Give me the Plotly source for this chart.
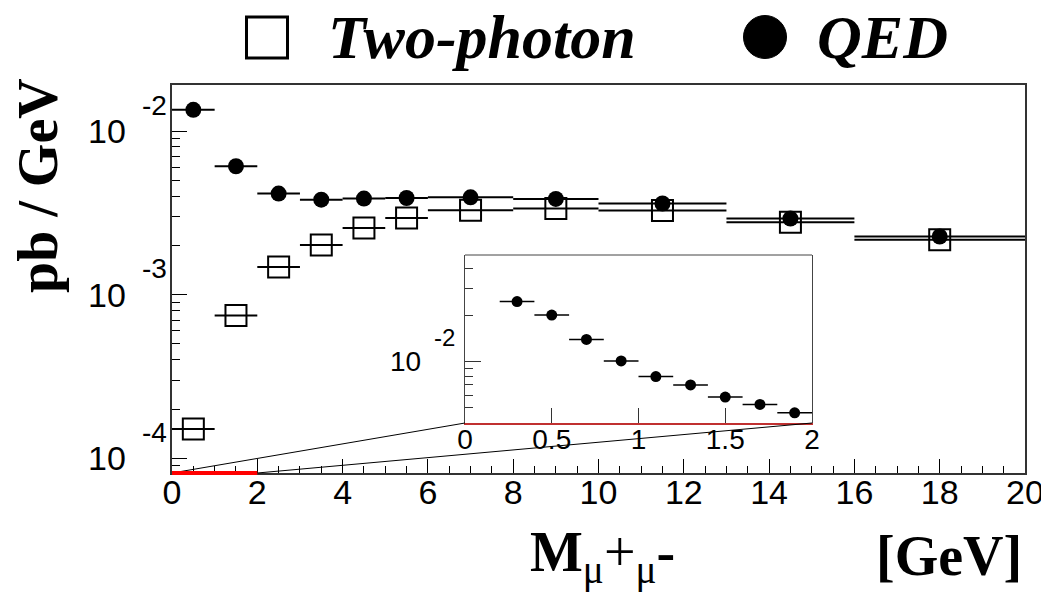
import numpy as np
import plotly.graph_objects as go

# ---------------- data ----------------
bin_lo = [0, 1, 2, 3, 4, 5, 6, 8, 10, 13, 16]
bin_hi = [1, 2, 3, 4, 5, 6, 8, 10, 13, 16, 20]
qed = [0.0135, 0.0061, 0.00415, 0.00381, 0.00387, 0.0039, 0.00394, 0.00385, 0.00361, 0.00292, 0.00227]
two_photon = [1.51e-4, 7.46e-4, 1.476e-3, 2.01e-3, 2.56e-3, 2.94e-3, 3.28e-3, 3.36e-3, 3.27e-3, 2.77e-3, 2.17e-3]

inset_lo = [0.2, 0.4, 0.6, 0.8, 1.0, 1.2, 1.4, 1.6, 1.8]
inset_hi = [0.4, 0.6, 0.8, 1.0, 1.2, 1.4, 1.6, 1.8, 2.0]
inset_qed = [0.0245, 0.0200, 0.01387, 0.01005, 0.00794, 0.0070, 0.00584, 0.00523, 0.00461]

x_ticks = [0, 2, 4, 6, 8, 10, 12, 14, 16, 18, 20]
y_major = [1e-4, 1e-3, 1e-2]
inset_x_ticks = [0, 0.5, 1, 1.5, 2]
inset_x_text = ["0", "0.5", "1", "1.5", "2"]
inset_y_major = [1e-2]

legend_names = ["Two-photon", "QED"]

# ---------------- helpers ----------------
lo, hi = np.array(bin_lo, float), np.array(bin_hi, float)
xc, xe = (lo + hi) / 2, (hi - lo) / 2
ilo, ihi = np.array(inset_lo), np.array(inset_hi)
ixc, ixe = (ilo + ihi) / 2, (ihi - ilo) / 2


def minor_log(lo_dec, hi_dec):
    vals = []
    for d in range(lo_dec, hi_dec + 1):
        for m in range(2, 10):
            vals.append(m * 10.0 ** d)
    return vals


SERIF = "Liberation Serif"
SANS = "Liberation Sans"
W, H = 1041, 595
ML, MR, MT, MB = 172, 16, 85, 122
PW, PH = W - ML - MR, H - MT - MB

fig = go.Figure()

# main plot traces
fig.add_trace(go.Scatter(
    x=xc, y=qed, mode="markers", name=legend_names[1],
    marker=dict(symbol="circle", size=16, color="black"),
    error_x=dict(type="data", array=xe, symmetric=True, width=0, thickness=2, color="black"),
    xaxis="x", yaxis="y", showlegend=False))
fig.add_trace(go.Scatter(
    x=xc, y=two_photon, mode="markers", name=legend_names[0],
    marker=dict(symbol="square-open", size=21, color="black", line=dict(width=2, color="black")),
    error_x=dict(type="data", array=xe, symmetric=True, width=0, thickness=2, color="black"),
    xaxis="x", yaxis="y", showlegend=False))

# inset trace
fig.add_trace(go.Scatter(
    x=ixc, y=inset_qed, mode="markers",
    marker=dict(symbol="circle", size=11, color="black"),
    error_x=dict(type="data", array=ixe, symmetric=True, width=0, thickness=1.5, color="black"),
    xaxis="x2", yaxis="y2", showlegend=False))

inset_dx = [(465 - ML) / PW, (812 - ML) / PW]
inset_dy = [(H - MB - 423) / PH, (H - MB - 255) / PH]

frame = "#333333"
fig.update_layout(
    width=W, height=H, autosize=False,
    margin=dict(l=ML, r=MR, t=MT, b=MB, autoexpand=False),
    paper_bgcolor="white", plot_bgcolor="white",
    showlegend=False,
    xaxis=dict(range=[0, 20], domain=[0, 1], anchor="y", automargin=False,
               tickvals=x_ticks, ticks="inside", ticklen=14, tickwidth=1.2, tickcolor="black",
               minor=dict(dtick=0.5, tick0=0, ticks="inside", ticklen=7, tickwidth=1, tickcolor="black"),
               showline=True, mirror=True, linecolor=frame, linewidth=1.5,
               showgrid=False, zeroline=False,
               ticklabeloverflow="allow", ticklabelstandoff=-12,
               tickfont=dict(family=SANS, size=34, color="black")),
    yaxis=dict(type="log", range=[-4.090, -1.718], domain=[0, 1], anchor="x", automargin=False,
               tickvals=y_major, ticks="inside", ticklen=15, tickwidth=1.2, tickcolor="black",
               minor=dict(tickmode="array", tickvals=minor_log(-5, -2), ticks="inside",
                          ticklen=8, tickwidth=1, tickcolor="black"),
               showticklabels=False,
               showline=True, mirror=True, linecolor=frame, linewidth=1.5,
               showgrid=False, zeroline=False),
    xaxis2=dict(range=[0, 2], domain=inset_dx, anchor="y2", automargin=False,
                tickvals=inset_x_ticks, ticktext=inset_x_text,
                ticks="inside", ticklen=15, tickwidth=1, tickcolor="#333",
                showline=True, mirror=False, linecolor="#c03030", linewidth=2,
                showgrid=False, zeroline=False,
                ticklabeloverflow="allow", ticklabelstandoff=-10,
                tickfont=dict(family=SANS, size=28, color="black")),
    yaxis2=dict(type="log", range=[-2.403, -1.307], domain=inset_dy, anchor="x2", automargin=False,
                tickvals=inset_y_major, ticks="inside", ticklen=16, tickwidth=1, tickcolor="#333",
                minor=dict(tickmode="array", tickvals=minor_log(-3, -2), ticks="inside",
                           ticklen=8, tickwidth=1, tickcolor="#333"),
                showticklabels=False,
                showline=True, mirror=True, linecolor="#444", linewidth=1,
                showgrid=False, zeroline=False),
)

shapes = []
# inset top border
shapes.append(dict(type="line", xref="x2 domain", yref="y2 domain", x0=0, x1=1, y0=1, y1=1,
                   line=dict(color="#444", width=1)))
# zoom connecting lines
shapes.append(dict(type="line", xref="paper", yref="paper", x0=0, y0=0,
                   x1=inset_dx[0], y1=inset_dy[0], line=dict(color="black", width=1)))
shapes.append(dict(type="line", xref="paper", yref="paper", x0=2 / 20, y0=0,
                   x1=inset_dx[1], y1=inset_dy[0], line=dict(color="black", width=1)))
# red zoom range on main axis
shapes.append(dict(type="line", xref="x", yref="paper", x0=0, x1=2, y0=0, y1=0,
                   line=dict(color="#ff0000", width=4)))
# legend symbols
sq_anchor = ((267 - ML) / PW, (H - MB - 37.5) / PH)
ci_anchor = ((765 - ML) / PW, (H - MB - 37) / PH)
shapes.append(dict(type="rect", xref="paper", yref="paper", xsizemode="pixel", ysizemode="pixel",
                   xanchor=sq_anchor[0], yanchor=sq_anchor[1], x0=-20.5, x1=20.5, y0=-20.5, y1=20.5,
                   line=dict(color="black", width=3), fillcolor="rgba(0,0,0,0)"))
shapes.append(dict(type="circle", xref="paper", yref="paper", xsizemode="pixel", ysizemode="pixel",
                   xanchor=ci_anchor[0], yanchor=ci_anchor[1], x0=-21.5, x1=21.5, y0=-21.5, y1=21.5,
                   line=dict(color="black", width=1), fillcolor="black"))
fig.update_layout(shapes=shapes)

ann = []
# main y tick labels (10 with exponent)
for v in y_major:
    e = int(round(np.log10(v)))
    ann.append(dict(xref="x domain", yref="y", x=0, y=np.log10(v), text="10",
                    xanchor="right", yanchor="middle", xshift=-44, showarrow=False,
                    font=dict(family=SANS, size=34, color="black")))
    ann.append(dict(xref="x domain", yref="y", x=0, y=np.log10(v), text=str(e),
                    xanchor="left", yanchor="middle", xshift=-32, yshift=26, showarrow=False,
                    font=dict(family=SANS, size=28, color="black")))
for v in inset_y_major:
    e = int(round(np.log10(v)))
    ann.append(dict(xref="x2 domain", yref="y2", x=0, y=np.log10(v), text="10",
                    xanchor="right", yanchor="middle", xshift=-42, showarrow=False,
                    font=dict(family=SANS, size=28, color="black")))
    ann.append(dict(xref="x2 domain", yref="y2", x=0, y=np.log10(v), text=str(e),
                    xanchor="left", yanchor="middle", xshift=-33, yshift=24, showarrow=False,
                    font=dict(family=SANS, size=24, color="black")))

# axis titles
ann.append(dict(xref="paper", yref="paper", x=(38 - ML) / PW, y=(H - MB - 186) / PH,
                text="<b>pb / GeV</b>", textangle=-90, showarrow=False,
                xanchor="center", yanchor="middle",
                font=dict(family=SERIF, size=56, color="black")))
ann.append(dict(xref="paper", yref="paper", x=(528 - ML) / PW, y=(H - MB - 556) / PH,
                text="<b>M</b><sub>μ</sub>+<sub>μ</sub><b>-</b>", showarrow=False,
                xanchor="left", yanchor="middle",
                font=dict(family=SERIF, size=56, color="black")))
ann.append(dict(xref="paper", yref="paper", x=(1024 - ML) / PW, y=(H - MB - 556) / PH,
                text="<b>[GeV]</b>", showarrow=False,
                xanchor="right", yanchor="middle",
                font=dict(family=SERIF, size=56, color="black")))
# legend texts
ann.append(dict(xref="paper", yref="paper", x=(326 - ML) / PW, y=(H - MB - 37) / PH,
                text="<b><i>" + legend_names[0] + "</i></b>", showarrow=False,
                xanchor="left", yanchor="middle",
                font=dict(family=SERIF, size=62, color="black")))
ann.append(dict(xref="paper", yref="paper", x=(815 - ML) / PW, y=(H - MB - 37) / PH,
                text="<b><i>" + legend_names[1] + "</i></b>", showarrow=False,
                xanchor="left", yanchor="middle",
                font=dict(family=SERIF, size=62, color="black")))
fig.update_layout(annotations=ann)

fig.write_html("out.html")
